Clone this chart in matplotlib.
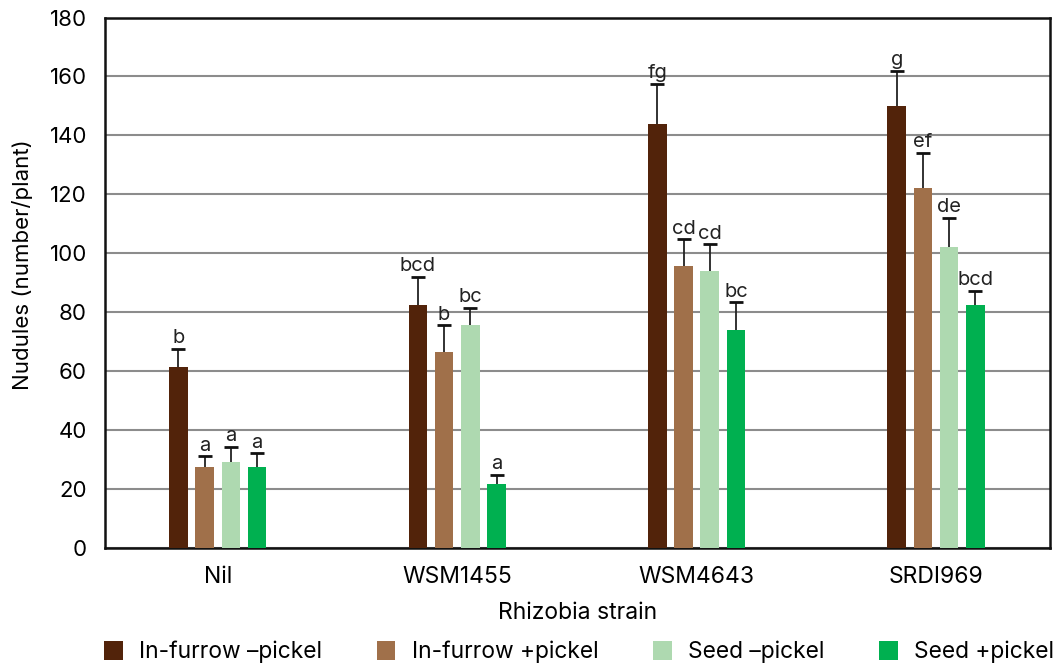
import matplotlib
matplotlib.use("Agg")
import matplotlib.pyplot as plt
import numpy as np

plt.rcParams['font.family'] = ['Inter', 'DejaVu Sans']

strains = ["Nil", "WSM1455", "WSM4643", "SRDI969"]
series = ["In-furrow \u2013pickel", "In-furrow +pickel", "Seed \u2013pickel", "Seed +pickel"]
colors = ["#52230a", "#a0704a", "#aed9b0", "#00b050"]

infurrow_minus = [61.5, 82.5, 144.0, 150.0]
infurrow_plus = [27.5, 66.5, 95.5, 122.0]
seed_minus = [29.2, 75.5, 94.0, 102.0]
seed_plus = [27.5, 21.5, 74.0, 82.5]

err_infurrow_minus = [6.0, 9.5, 13.5, 12.0]
err_infurrow_plus = [3.5, 9.0, 9.2, 12.0]
err_seed_minus = [5.0, 6.0, 9.0, 10.0]
err_seed_plus = [4.5, 3.2, 9.3, 4.8]

letters_infurrow_minus = ["b", "bcd", "fg", "g"]
letters_infurrow_plus = ["a", "b", "cd", "ef"]
letters_seed_minus = ["a", "bc", "cd", "de"]
letters_seed_plus = ["a", "a", "bc", "bcd"]

values = [infurrow_minus, infurrow_plus, seed_minus, seed_plus]
errors = [err_infurrow_minus, err_infurrow_plus, err_seed_minus, err_seed_plus]
letters = [letters_infurrow_minus, letters_infurrow_plus, letters_seed_minus, letters_seed_plus]

W, H = 1063, 668
fig = plt.figure(figsize=(W/100, H/100), dpi=100)
ax = fig.add_axes([105/W, 1-547.7/H, 945/W, 530.2/H])

x = np.arange(len(strains))
step = 0.1095
width = 0.078
offsets = (np.arange(4) - 1.5) * step
for i in range(4):
    xs = x + offsets[i]
    v = np.array(values[i])
    e = np.array(errors[i])
    ax.bar(xs, v, width=width, color=colors[i], label=series[i], zorder=3)
    ax.vlines(xs, v, v + e, color='#222222', linewidth=1.3, zorder=4)
    ax.plot(xs, v + e, linestyle='none', marker='_', markersize=10,
            markeredgewidth=2.0, color='#111111', zorder=4)
    for xi, top, t in zip(xs, v + e, letters[i]):
        ax.annotate(t, (xi, top), xytext=(0, 4), textcoords='offset points',
                    ha='center', va='baseline', fontsize=14.5, color='#222222')

ax.set_xlim(-0.471, 3.476)
ax.set_ylim(0, 180)
ax.set_yticks(np.arange(0, 181, 20))
ax.yaxis.grid(True, color='#8c8c8c', linewidth=1.5, zorder=0)
ax.set_axisbelow(True)
ax.set_xticks(x)
ax.set_xticklabels(strains, fontsize=16.5)
ax.tick_params(axis='y', labelsize=16, length=0, pad=13)
ax.tick_params(axis='x', length=0, pad=13)
for s in ax.spines.values():
    s.set_color('#111111')
    s.set_linewidth(1.8)
ax.set_ylabel("Nudules (number/plant)", fontsize=16)
ax.yaxis.set_label_coords(-(105 - 33) / 945, 0.533)
ax.set_xlabel("Rhizobia strain", fontsize=16.5, labelpad=10)

fig.legend(loc='center left', bbox_to_anchor=(104/W, 16/H), ncol=4, frameon=False,
           fontsize=16.4, handlelength=0.82, handleheight=0.96, columnspacing=2.4,
           handletextpad=0.72, borderpad=0, borderaxespad=0)

fig.savefig("out.png", dpi=100)
